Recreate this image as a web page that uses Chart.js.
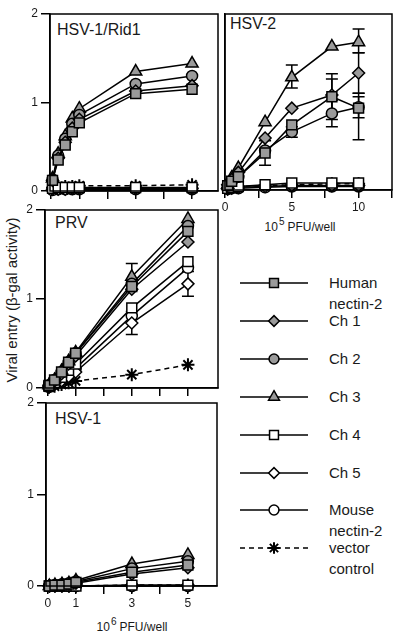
<!DOCTYPE html>
<html>
<head>
<meta charset="utf-8">
<script src="https://cdn.jsdelivr.net/npm/chart.js@4.4.0/dist/chart.umd.min.js"></script>
<style>
  body { margin: 0; width: 400px; height: 639px; background: #fff; position: relative; overflow: hidden;
         font-family: "Liberation Sans", Arial, Helvetica, sans-serif; color: #1a1a1a; }
  canvas { position: absolute; }
  .lbl { position: absolute; font-size: 16px; line-height: 16px; white-space: nowrap; }
  .xt { position: absolute; font-size: 12px; line-height: 14px; white-space: nowrap; transform: translateX(-50%); }
  .xt sup { font-size: 10px; vertical-align: 6px; line-height: 0; margin: 0 3px 0 1px; }
  .yt { position: absolute; width: 260px; height: 20px; line-height: 20px; font-size: 15px; text-align: center;
        transform: rotate(-90deg); white-space: nowrap; }
  .leg { position: absolute; left: 329px; font-size: 15px; line-height: 21px; white-space: nowrap; }
</style>
</head>
<body>
<div class="lbl" style="left:57px;top:22px">HSV-1/Rid1</div>
<div class="lbl" style="left:230px;top:16px">HSV-2</div>
<div class="lbl" style="left:55px;top:215px">PRV</div>
<div class="lbl" style="left:55px;top:411px">HSV-1</div>
<div class="xt" style="left:300px;top:220px">10<sup>5</sup>PFU/well</div>
<div class="xt" style="left:132px;top:620px">10<sup>6</sup>PFU/well</div>
<div class="yt" style="left:-118px;top:290px">Viral entry (β-gal activity)</div>
<script>
// series, in legend order
const seriesNames = [['Human', 'nectin-2'], ['Ch 1'], ['Ch 2'], ['Ch 3'], ['Ch 4'], ['Ch 5'], ['Mouse', 'nectin-2'], ['vector', 'control']];

// x values: 10^6 PFU/well (left column), 10^5 PFU/well (HSV-2)
const doseLeft = [0.05, 0.25, 0.5, 0.75, 1, 3, 5];
const doseHsv2 = [0.2, 0.5, 1, 3, 5, 8, 10];

// tick values / labelled ticks
const ticksLeft = [0, 1, 2, 3, 4, 5];
const labelsLeft = [0, 1, 3, 5];
const ticksHsv2 = [0, 2.5, 5, 7.5, 10, 12.5];
const labelsHsv2 = [0, 5, 10];
const yTicks = [0, 1, 2];

// beta-gal activity, one row per series
const rid1Values = [
  [0.12, 0.35, 0.52, 0.67, 0.77, 1.10, 1.15],
  [0.12, 0.37, 0.55, 0.71, 0.81, 1.13, 1.19],
  [0.13, 0.40, 0.59, 0.76, 0.86, 1.21, 1.30],
  [0.14, 0.42, 0.62, 0.82, 0.93, 1.35, 1.44],
  [0.03, 0.04, 0.04, 0.04, 0.04, 0.04, 0.04],
  [0.02, 0.02, 0.02, 0.03, 0.03, 0.03, 0.03],
  [0.01, 0.02, 0.02, 0.02, 0.02, 0.02, 0.02],
  [0.04, 0.05, 0.05, 0.05, 0.06, 0.06, 0.07]
];
const hsv2Values = [
  [0.05, 0.10, 0.15, 0.42, 0.74, 1.06, 0.93],
  [0.06, 0.12, 0.20, 0.59, 0.93, 1.08, 1.33],
  [0.05, 0.10, 0.15, 0.45, 0.66, 0.87, 0.94],
  [0.06, 0.14, 0.25, 0.77, 1.28, 1.63, 1.68],
  [0.02, 0.03, 0.04, 0.06, 0.08, 0.08, 0.08],
  [0.01, 0.02, 0.03, 0.04, 0.05, 0.05, 0.05],
  [0.01, 0.02, 0.02, 0.03, 0.04, 0.04, 0.04],
  [0.02, 0.03, 0.04, 0.05, 0.06, 0.07, 0.07]
];
const prvValues = [
  [0.03, 0.09, 0.18, 0.29, 0.39, 1.14, 1.76],
  [0.03, 0.08, 0.16, 0.27, 0.36, 1.11, 1.64],
  [0.03, 0.09, 0.18, 0.29, 0.39, 1.17, 1.82],
  [0.03, 0.09, 0.19, 0.30, 0.40, 1.25, 1.90],
  [0.02, 0.06, 0.12, 0.20, 0.27, 0.90, 1.42],
  [0.01, 0.04, 0.08, 0.13, 0.18, 0.73, 1.17],
  [0.01, 0.05, 0.10, 0.16, 0.22, 0.81, 1.35],
  [0.01, 0.02, 0.04, 0.06, 0.08, 0.15, 0.26]
];
const hsv1Values = [
  [0, 0.01, 0.01, 0.02, 0.04, 0.15, 0.23],
  [0, 0.01, 0.01, 0.02, 0.03, 0.13, 0.20],
  [0, 0.01, 0.02, 0.03, 0.05, 0.19, 0.27],
  [0, 0.01, 0.02, 0.03, 0.06, 0.24, 0.34],
  [0, 0, 0, 0, 0, 0.01, 0.01],
  [0, 0, 0, 0, 0, 0, 0],
  [0, 0, 0, 0, 0, 0, 0],
  [0, 0, 0, 0, 0, 0.01, 0.01]
];

// error bars: [series, point, low, high]
const rid1Errors = [];
const hsv2Errors = [
  [0, 3, 0.28, 0.56], [0, 6, 0.57, 1.10], [0, 5, 0.80, 1.26],
  [1, 5, 0.86, 1.32], [1, 6, 1.10, 1.56],
  [2, 4, 0.60, 0.72], [2, 5, 0.72, 1.02], [2, 6, 0.82, 1.06],
  [3, 4, 1.16, 1.42], [3, 6, 1.56, 1.83]
];
const prvErrors = [[3, 5, 1.10, 1.40], [5, 5, 0.60, 0.86], [5, 6, 1.03, 1.31]];
const hsv1Errors = [];

const GRAY = '#9a9a9a';
const FONT = '"Liberation Sans", Arial, Helvetica, sans-serif';
const seriesStyles = [
  { shape: 'rect', r: 7, fill: GRAY },
  { shape: 'rectRot', r: 6, fill: GRAY },
  { shape: 'circle', r: 5.5, fill: GRAY },
  { shape: 'triangle', r: 7, fill: GRAY },
  { shape: 'rect', r: 7, fill: '#fff' },
  { shape: 'rectRot', r: 6, fill: '#fff' },
  { shape: 'circle', r: 5.5, fill: '#fff' },
  { shape: 'star', r: 6.5, fill: '#fff', dash: [5, 4] }
];

const framePlugin = {
  id: 'frame',
  afterDraw(chart) {
    const { ctx, chartArea: a } = chart;
    ctx.save();
    ctx.strokeStyle = '#000';
    ctx.lineWidth = 1.5;
    ctx.strokeRect(a.left, a.top, a.right - a.left, a.bottom - a.top);
    ctx.restore();
  }
};

const errorPlugin = {
  id: 'errorBars',
  beforeDatasetsDraw(chart, args, opts) {
    const { ctx, scales: { x, y } } = chart;
    ctx.save();
    ctx.strokeStyle = '#000';
    ctx.lineWidth = 1.5;
    (opts.errors || []).forEach(([s, i, lo, hi]) => {
      const px = x.getPixelForValue(chart.data.datasets[s].data[i].x);
      const y1 = y.getPixelForValue(lo), y2 = y.getPixelForValue(hi);
      ctx.beginPath();
      ctx.moveTo(px, y1); ctx.lineTo(px, y2);
      ctx.moveTo(px - 6, y1); ctx.lineTo(px + 6, y1);
      ctx.moveTo(px - 6, y2); ctx.lineTo(px + 6, y2);
      ctx.stroke();
    });
    ctx.restore();
  }
};

function makePanel(o) {
  const pad = { left: 45, top: 12, right: 12, bottom: 30 };
  const c = document.createElement('canvas');
  c.width = o.rect[2] - o.rect[0] + pad.left + pad.right;
  c.height = o.rect[3] - o.rect[1] + pad.top + pad.bottom;
  c.style.left = (o.rect[0] - pad.left) + 'px';
  c.style.top = (o.rect[1] - pad.top) + 'px';
  document.body.appendChild(c);

  const datasets = seriesNames.map((name, i) => {
    const st = seriesStyles[i];
    return {
      label: name.join(' '),
      data: o.dose.map((d, j) => ({ x: d, y: o.values[i][j] })),
      showLine: true,
      borderColor: '#000',
      borderWidth: 1.5,
      borderDash: st.dash || [],
      tension: 0,
      pointStyle: st.shape,
      pointRadius: st.r,
      pointBackgroundColor: st.fill,
      pointBorderColor: '#000',
      pointBorderWidth: st.shape === 'star' ? 2 : 1.5,
      clip: false
    };
  });

  new Chart(c, {
    type: 'scatter',
    data: { datasets },
    options: {
      responsive: false,
      animation: false,
      events: [],
      layout: { padding: { left: 0, top: pad.top, right: pad.right, bottom: 0 } },
      plugins: {
        legend: { display: false },
        tooltip: { enabled: false },
        errorBars: { errors: o.errors }
      },
      scales: {
        x: {
          type: 'linear',
          min: o.xMin,
          max: o.xMax,
          afterBuildTicks: s => { s.ticks = o.xTicks.map(v => ({ value: v })); },
          afterFit: s => { s.height = pad.bottom; },
          ticks: {
            callback: v => (o.xLabels.includes(v) ? String(v) : ''),
            font: { family: FONT, size: 12 },
            color: '#1a1a1a',
            padding: 2,
            maxRotation: 0,
            autoSkip: false
          },
          grid: { drawOnChartArea: false, tickLength: 8, color: '#000', lineWidth: 1.5 },
          border: { color: '#000', width: 1.5 }
        },
        y: {
          type: 'linear',
          min: 0,
          max: 2,
          afterBuildTicks: s => { s.ticks = yTicks.map(v => ({ value: v })); },
          afterFit: s => { s.width = pad.left; },
          ticks: {
            display: o.yLabels,
            font: { family: FONT, size: 12 },
            color: '#1a1a1a',
            padding: 3
          },
          grid: { display: o.yLabels, drawOnChartArea: false, tickLength: 9, color: '#000', lineWidth: 1.5 },
          border: { display: true, color: '#000', width: 1.5 }
        }
      }
    },
    plugins: [framePlugin, errorPlugin]
  });
}

makePanel({ rect: [50, 14, 218, 191], dose: doseLeft, values: rid1Values, errors: rid1Errors,
  xMin: -0.04, xMax: 5.92, xTicks: ticksLeft, xLabels: [], yLabels: true });
makePanel({ rect: [225, 14, 392, 190], dose: doseHsv2, values: hsv2Values, errors: hsv2Errors,
  xMin: 0, xMax: 12.5, xTicks: ticksHsv2, xLabels: labelsHsv2, yLabels: false });
makePanel({ rect: [45, 210, 218, 388], dose: doseLeft, values: prvValues, errors: prvErrors,
  xMin: -0.09, xMax: 6.07, xTicks: ticksLeft, xLabels: [], yLabels: true });
makePanel({ rect: [46, 403, 217, 586], dose: doseLeft, values: hsv1Values, errors: hsv1Errors,
  xMin: -0.07, xMax: 6.04, xTicks: ticksLeft, xLabels: labelsLeft, yLabels: true });

// legend: line + marker drawn with Chart.js point helper, text as html
seriesNames.forEach((lines, i) => {
  const st = seriesStyles[i];
  const yc = 283 + i * 37.9;
  const c = document.createElement('canvas');
  c.width = 80; c.height = 24;
  c.style.left = '236px';
  c.style.top = Math.round(yc - 12) + 'px';
  document.body.appendChild(c);
  const ctx = c.getContext('2d');
  ctx.strokeStyle = '#000';
  ctx.lineWidth = 1.5;
  ctx.setLineDash(st.dash || []);
  ctx.beginPath();
  ctx.moveTo(4, 12); ctx.lineTo(72, 12);
  ctx.stroke();
  ctx.setLineDash([]);
  ctx.fillStyle = st.fill;
  ctx.lineWidth = st.shape === 'star' ? 2 : 1.5;
  Chart.helpers.drawPoint(ctx, { pointStyle: st.shape, radius: st.r * 0.9, rotation: 0, borderWidth: 1.5 }, 38, 12);

  const t = document.createElement('div');
  t.className = 'leg';
  t.style.top = Math.round(yc - 11) + 'px';
  t.innerHTML = lines.join('<br>');
  document.body.appendChild(t);
});
</script>
</body>
</html>
